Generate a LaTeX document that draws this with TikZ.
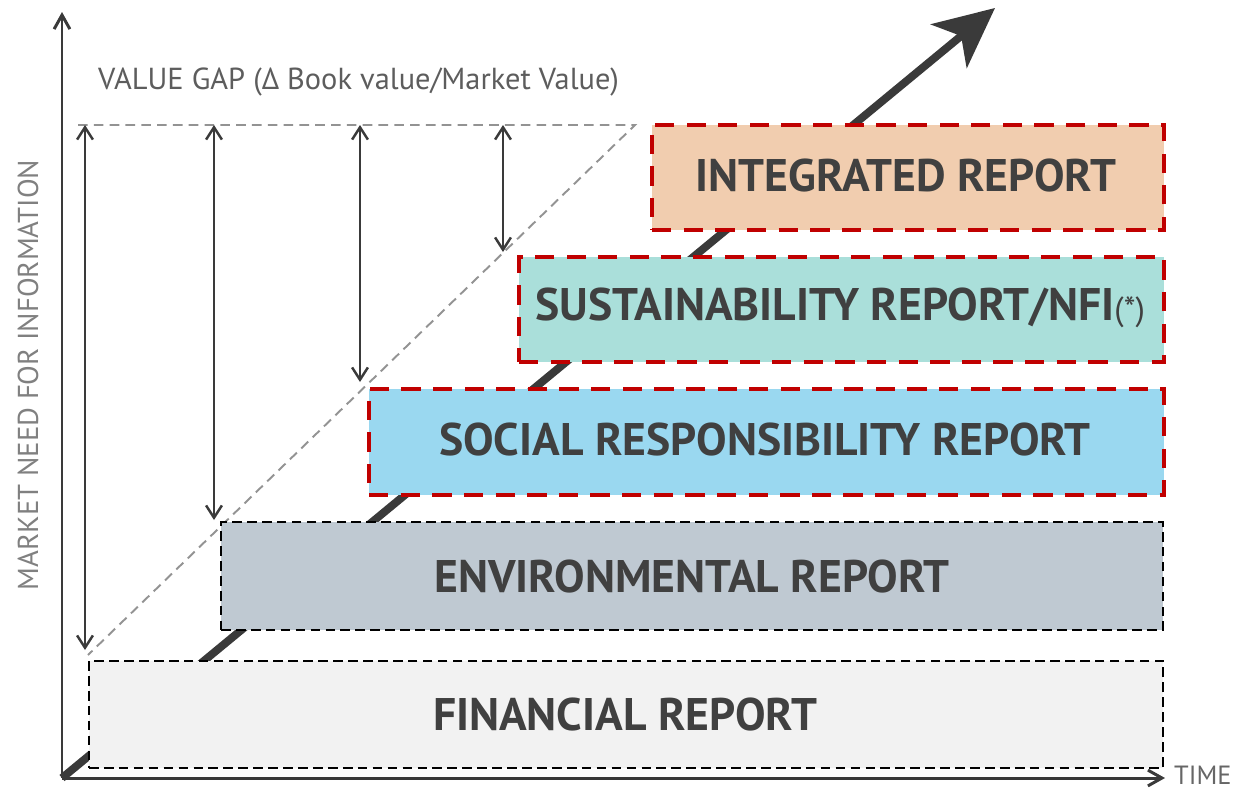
\documentclass[tikz,border=0pt]{standalone}
\usepackage{fontspec}
\setmainfont{PT Sans}
\usetikzlibrary{arrows.meta,positioning}

\definecolor{txtgray}{HTML}{404040}
\definecolor{axisgray}{HTML}{3A3A3A}
\definecolor{redline}{HTML}{C00000}
\definecolor{finfill}{HTML}{F2F2F2}
\definecolor{envfill}{HTML}{BFC9D2}
\definecolor{socfill}{HTML}{9AD8F0}
\definecolor{susfill}{HTML}{AADFDA}
\definecolor{intfill}{HTML}{F1CDAF}

\tikzset{
  report/.style={rectangle, anchor=north west, inner sep=0pt,
    font=\bfseries\fontsize{26}{28}\selectfont, text=txtgray},
  blackdash/.style={draw=black, line width=1.1pt, dash pattern=on 5.5pt off 3pt},
  reddash/.style={draw=redline, line width=2.4pt, dash pattern=on 11pt off 7pt},
  gapline/.style={draw=gray!85, line width=1.1pt, dash pattern=on 5.5pt off 3.5pt},
  gaparrow/.style={draw=axisgray, line width=1.4pt, {Straight Barb[length=7pt,width=9pt]}-{Straight Barb[length=7pt,width=9pt]}},
  axis/.style={draw=axisgray, line width=1.7pt, -{Straight Barb[length=8pt,width=9pt]}}
}

\begin{document}
\begin{tikzpicture}[x=0.02cm, y=-0.02cm]
  \useasboundingbox (0,0) rectangle (1238,792);

  % growth arrow behind the boxes
  \coordinate (origin) at (62,778);
  \coordinate (tip) at (995,8);
  \draw[axisgray, line width=4.5pt, -{Stealth[length=34pt,width=32pt,inset=9pt]}] (origin) -- (tip);

  % value gap lines
  \coordinate (g0) at (78,125);
  \coordinate (gc) at (635,125);
  \coordinate (gb) at (88,655);
  \draw[gapline] (g0) -- (gc) -- (gb);

  \coordinate (a1t) at (85,125);  \coordinate (a1b) at (85,650);
  \coordinate (a2t) at (214,125); \coordinate (a2b) at (214,520);
  \coordinate (a3t) at (360,125); \coordinate (a3b) at (360,382);
  \coordinate (a4t) at (503,125); \coordinate (a4b) at (503,252);
  \draw[gaparrow] (a1t) -- (a1b);
  \draw[gaparrow] (a2t) -- (a2b);
  \draw[gaparrow] (a3t) -- (a3b);
  \draw[gaparrow] (a4t) -- (a4b);

  % report boxes
  \node[report, blackdash, fill=finfill, minimum width=1074*0.02cm, minimum height=107*0.02cm] (fin) at (88,660) {};
  \node[report, blackdash, fill=envfill, minimum width=942*0.02cm, minimum height=108*0.02cm] (env) at (220,521) {};
  \node[report, reddash, fill=socfill, minimum width=795*0.02cm, minimum height=106*0.02cm] (soc) at (367,387) {};
  \node[report, reddash, fill=susfill, minimum width=645*0.02cm, minimum height=105*0.02cm] (sus) at (517,255) {};
  \node[report, reddash, fill=intfill, minimum width=512*0.02cm, minimum height=105*0.02cm] (intg) at (650,123) {};

  \node[report, anchor=center] (fintxt) at (625,714) {FINANCIAL REPORT};
  \node[report, anchor=center] (envtxt) at (692,577) {ENVIRONMENTAL REPORT};
  \node[report, anchor=center] (soctxt) at (765,440) {SOCIAL RESPONSIBILITY REPORT};
  \node[report, anchor=center] (sustxt) at (840,308) {SUSTAINABILITY REPORT/NFI{\mdseries\fontsize{19}{20}\selectfont(*)}};
  \node[report, anchor=center] (inttxt) at (906,176) {INTEGRATED REPORT};

  % axes
  \coordinate (ytop) at (62,12);
  \coordinate (xend) at (1165,778);
  \draw[axis] (origin) -- (ytop);
  \draw[axis] (origin) -- (xend);

  % labels
  \node[text=txtgray!80, font=\fontsize{15}{16}\selectfont, anchor=west] (xlab) at (1168,775) {TIME};
  \node[text=gray, font=\fontsize{16.4}{18}\selectfont, rotate=90] (ylab) at (28,375) {MARKET NEED FOR INFORMATION};
  \node[text=txtgray!85, font=\fontsize{17.3}{19}\selectfont, anchor=west] (gaplab) at (92,82) {VALUE GAP (Δ Book value/Market Value)};
\end{tikzpicture}
\end{document}
